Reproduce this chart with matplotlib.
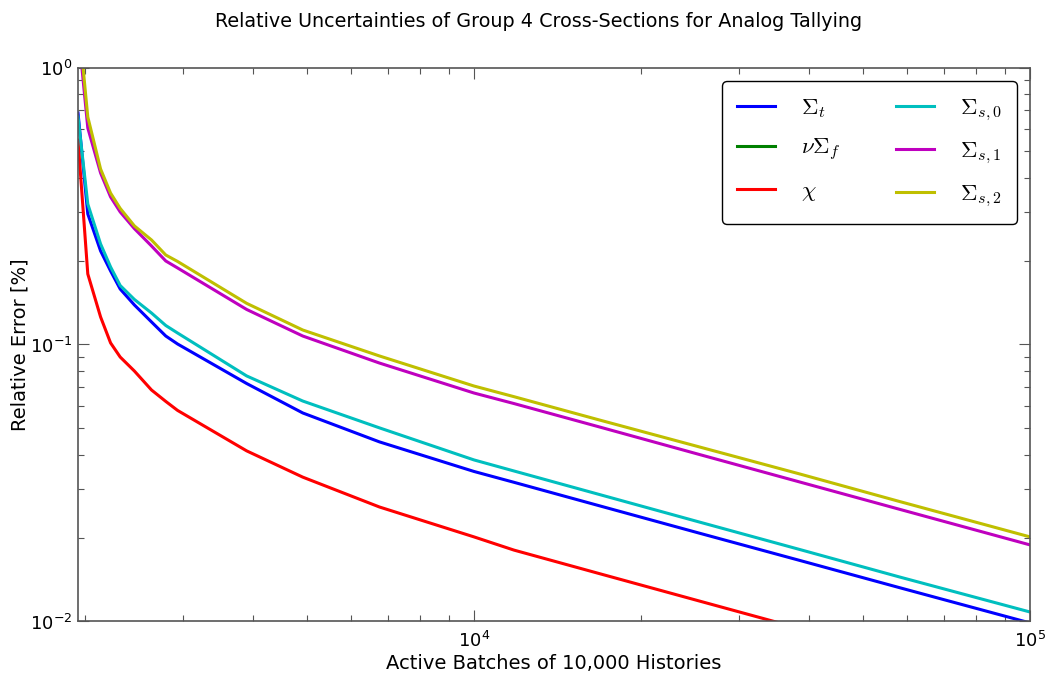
import numpy as np
import matplotlib
matplotlib.use("Agg")
import matplotlib.pyplot as plt

# Active batch counts (tally checkpoints)
batches = [1940, 2020, 2130, 2220, 2310, 2450, 2630, 2790, 2930, 3900, 4920,
           6760, 10000, 11800, 16800, 25400, 38500, 58300, 100000]

# Relative errors of each group-4 cross-section tally
sigma_t = [0.685, 0.296, 0.2176, 0.1842, 0.1586, 0.1389, 0.1206, 0.1073, 0.1004,
           0.0723, 0.0566, 0.0445, 0.0348, 0.0318, 0.02617, 0.02085, 0.01662,
           0.01324, 0.00988]
# no fission in this group: the relative error is undefined
nu_sigma_f = [np.nan] * len(batches)
chi = [0.547, 0.1797, 0.1257, 0.1013, 0.0901, 0.0802, 0.0685, 0.0623, 0.0578,
       0.0413, 0.0332, 0.0259, 0.0202, 0.0181, 0.01489, 0.01186, 0.00944,
       0.00752, 0.00561]
sigma_s0 = [0.663, 0.3215, 0.2306, 0.1905, 0.1633, 0.1454, 0.1299, 0.1171, 0.110,
            0.0770, 0.0625, 0.0500, 0.0383, 0.03494, 0.02874, 0.02287, 0.0182,
            0.01447, 0.01082]
sigma_s1 = [1.39, 0.605, 0.416, 0.341, 0.301, 0.262, 0.2268, 0.2002, 0.1889,
            0.1338, 0.1073, 0.0857, 0.0668, 0.0612, 0.0504, 0.0401, 0.0319,
            0.0254, 0.0189]
sigma_s2 = [1.55, 0.663, 0.430, 0.352, 0.310, 0.268, 0.2384, 0.2104, 0.1994,
            0.1408, 0.1128, 0.0909, 0.0708, 0.0648, 0.0534, 0.0427, 0.0341,
            0.0271, 0.0202]

labels = [r"$\Sigma_t$", r"$\nu\Sigma_f$", r"$\chi$",
          r"$\Sigma_{s,0}$", r"$\Sigma_{s,1}$", r"$\Sigma_{s,2}$"]
colors = ["#0000ff", "#008000", "#ff0000", "#00bfbf", "#bf00bf", "#bfbf00"]

plt.rcParams["mathtext.fontset"] = "cm"
plt.rcParams["font.family"] = "DejaVu Sans"

fig = plt.figure(figsize=(10.46, 6.75), dpi=100)
ax = fig.add_axes([0.0746, 0.0793, 0.9101, 0.8207])

series = [sigma_t, nu_sigma_f, chi, sigma_s0, sigma_s1, sigma_s2]
for vals, lab, col in zip(series, labels, colors):
    ax.loglog(batches, vals, color=col, lw=2.2, label=lab)

ax.set_xlim(1940, 1e5)
ax.set_ylim(1e-2, 1)

ax.set_title("Relative Uncertainties of Group 4 Cross-Sections for Analog Tallying",
             fontsize=13.8, pad=29, x=0.484)
ax.set_xlabel("Active Batches of 10,000 Histories", fontsize=14, labelpad=2)
ax.set_ylabel("Relative Error [%]", fontsize=14, labelpad=0)

ax.tick_params(which="both", direction="in", top=True, right=True,
               labelsize=13, color="#555555")
ax.tick_params(which="major", length=8, width=0.8)
ax.tick_params(which="minor", length=4, width=0.8)
ax.tick_params(axis="x", which="major", pad=7)
ax.tick_params(axis="y", which="major", pad=4)
for sp in ax.spines.values():
    sp.set_color("#555555")
    sp.set_linewidth(1.2)

leg = ax.legend(ncol=2, loc="upper right", fontsize=16.5, fancybox=True,
                handlelength=1.65, handletextpad=1.15, columnspacing=2.4,
                labelspacing=0.7, borderpad=0.65, borderaxespad=0.0,
                bbox_to_anchor=(0.9863, 0.9756), framealpha=1)
leg.get_frame().set_edgecolor("black")
leg.get_frame().set_linewidth(1.0)

fig.savefig("out.png", dpi=100, facecolor="white")
